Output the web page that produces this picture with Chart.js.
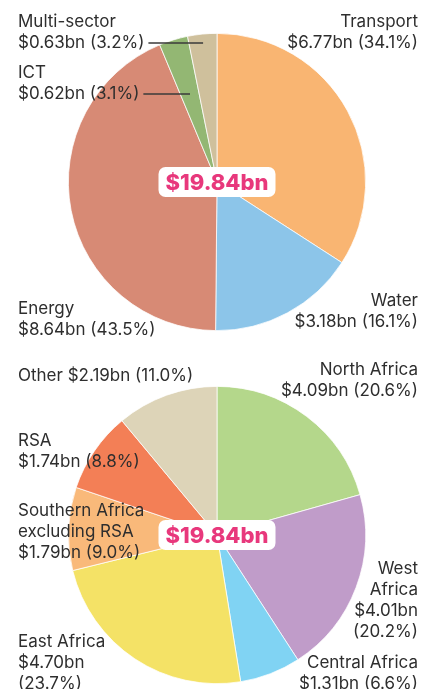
<!DOCTYPE html>
<html>
<head>
<meta charset="utf-8">
<script src="https://cdn.jsdelivr.net/npm/chart.js@4"></script>
<style>
  body { margin: 0; background: #fff; }
  #wrap { position: relative; width: 431px; height: 689px; overflow: hidden; }
  .box { position: absolute; left: 0; width: 431px; }
  #box1 { top: 0; height: 360px; }
  #box2 { top: 355px; height: 334px; }
</style>
</head>
<body>
<div id="wrap">
  <div class="box" id="box1"><canvas id="sectorChart"></canvas></div>
  <div class="box" id="box2"><canvas id="regionChart"></canvas></div>
</div>
<script>
// Sector split (clockwise from 12 o'clock)
const sectorNames = ['Transport', 'Water', 'Energy', 'ICT', 'Multi-sector'];
const sectorValues = [6.77, 3.18, 8.64, 0.62, 0.63];
const sectorPercents = [34.1, 16.1, 43.5, 3.1, 3.2];
const sectorColors = ['#f9b572', '#8cc5e9', '#d78a75', '#93b773', '#cfc09c'];

// Regional split
const regionNames = ['North Africa', 'West Africa', 'Central Africa', 'East Africa', 'Southern Africa excluding RSA', 'RSA', 'Other'];
const regionValues = [4.09, 4.01, 1.31, 4.70, 1.79, 1.74, 2.19];
const regionPercents = [20.6, 20.2, 6.6, 23.7, 9.0, 8.8, 11.0];
const regionColors = ['#b4d78b', '#c09cc9', '#80d3f3', '#f4e266', '#f9b97a', '#f37f56', '#ddd4b8'];

const totalLabel = '$19.84bn';

const fmt = (v, p) => '$' + v.toFixed(2) + 'bn (' + p.toFixed(1) + '%)';
const textColor = '#2e2e2e';
const labelFont = '17px Inter';

// label placement: lines, x, y of first line, alignment, optional leader
const sectorLabels = [
    { i: 0, lines: [sectorNames[0], fmt(sectorValues[0], sectorPercents[0])], x: 418, y: 22, align: 'right' },
    { i: 1, lines: [sectorNames[1], fmt(sectorValues[1], sectorPercents[1])], x: 418, y: 301, align: 'right' },
    { i: 2, lines: [sectorNames[2], fmt(sectorValues[2], sectorPercents[2])], x: 18, y: 309, align: 'left' },
    { i: 3, lines: [sectorNames[3], fmt(sectorValues[3], sectorPercents[3])], x: 18, y: 73, align: 'left', leader: true },
    { i: 4, lines: [sectorNames[4], fmt(sectorValues[4], sectorPercents[4])], x: 18, y: 22, align: 'left', leader: true }
];
const regionLabels = [
    { lines: [regionNames[0], fmt(regionValues[0], regionPercents[0])], x: 418, y: 15, align: 'right' },
    { lines: ['West', 'Africa', '$' + regionValues[1].toFixed(2) + 'bn', '(' + regionPercents[1].toFixed(1) + '%)'], x: 418, y: 214, align: 'right' },
    { lines: [regionNames[2], fmt(regionValues[2], regionPercents[2])], x: 418, y: 308, align: 'right' },
    { lines: [regionNames[3], '$' + regionValues[3].toFixed(2) + 'bn', '(' + regionPercents[3].toFixed(1) + '%)'], x: 18, y: 287, align: 'left' },
    { lines: ['Southern Africa', 'excluding RSA', fmt(regionValues[4], regionPercents[4])], x: 18, y: 156, align: 'left' },
    { lines: [regionNames[5], fmt(regionValues[5], regionPercents[5])], x: 18, y: 86, align: 'left' },
    { lines: [regionNames[6] + ' ' + fmt(regionValues[6], regionPercents[6])], x: 18, y: 21, align: 'left' }
];

const lineGap = 21;

const labelPlugin = {
    id: 'pieLabels',
    afterDraw(chart, args, opts) {
        const ctx = chart.ctx;
        const arcs = chart.getDatasetMeta(0).data;
        ctx.save();
        ctx.font = labelFont;
        ctx.fillStyle = textColor;
        ctx.textBaseline = 'middle';
        opts.items.forEach(l => {
            ctx.textAlign = l.align;
            l.lines.forEach((t, k) => ctx.fillText(t, l.x, l.y + k * lineGap));
            if (l.leader) {
                const a = arcs[l.i];
                const mid = (a.startAngle + a.endAngle) / 2;
                const ly = l.y + lineGap;
                const r = (ly - a.y) / Math.sin(mid);
                const ex = a.x + r * Math.cos(mid);
                const sx = l.x + ctx.measureText(l.lines[1]).width + 4;
                ctx.strokeStyle = '#3a3a3a';
                ctx.lineWidth = 1.5;
                ctx.beginPath();
                ctx.moveTo(sx, ly);
                ctx.lineTo(ex, ly);
                ctx.stroke();
            }
        });
        // centre total badge
        const c = arcs[0];
        const w = 117, h = 30;
        ctx.fillStyle = '#ffffff';
        ctx.beginPath();
        ctx.roundRect(c.x - w / 2, c.y - h / 2, w, h, 7);
        ctx.fill();
        ctx.fillStyle = '#e8387c';
        ctx.font = '800 22px Inter';
        ctx.textAlign = 'center';
        ctx.fillText(totalLabel, c.x, c.y + 1);
        ctx.restore();
    }
};

function makePie(id, names, values, colors, labels, padding) {
    new Chart(document.getElementById(id).getContext('2d'), {
        type: 'pie',
        data: {
            labels: names,
            datasets: [{
                data: values,
                backgroundColor: colors,
                borderColor: '#ffffff',
                borderWidth: 0.75
            }]
        },
        options: {
            responsive: true,
            maintainAspectRatio: false,
            animation: false,
            layout: { padding: padding },
            plugins: {
                legend: { display: false },
                tooltip: { enabled: false },
                pieLabels: { items: labels }
            }
        },
        plugins: [labelPlugin]
    });
}

makePie('sectorChart', sectorNames, sectorValues, sectorColors, sectorLabels,
    { top: 33, bottom: 29, left: 68, right: 65 });
makePie('regionChart', regionNames, regionValues, regionColors, regionLabels,
    { top: 31, bottom: 5, left: 68, right: 65 });
</script>
</body>
</html>
